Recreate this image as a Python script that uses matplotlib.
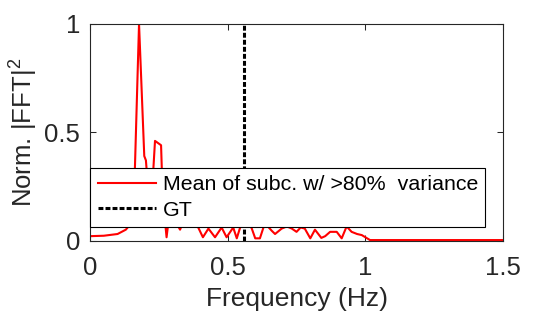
import matplotlib

matplotlib.use("Agg")
import matplotlib.pyplot as plt

plt.rcParams["font.family"] = ["Liberation Sans", "DejaVu Sans"]
plt.rcParams["mathtext.fontset"] = "custom"
plt.rcParams["mathtext.rm"] = "Liberation Sans"

# spectrum (Hz, normalised |FFT|^2)
freq = [0.00, 0.05, 0.10, 0.13, 0.15, 0.160, 0.178, 0.197, 0.203, 0.212, 0.224,
        0.236, 0.258, 0.264, 0.278, 0.288, 0.305, 0.327, 0.345, 0.365, 0.380,
        0.393, 0.410, 0.430, 0.454, 0.478, 0.496, 0.520, 0.533, 0.550, 0.570,
        0.587, 0.600, 0.617, 0.635, 0.660, 0.672, 0.696, 0.715, 0.733, 0.750,
        0.765, 0.780, 0.800, 0.817, 0.840, 0.854, 0.872, 0.896, 0.914, 0.932,
        0.950, 0.970, 0.987, 1.000, 1.017, 1.100, 1.300, 1.500]
power = [0.020, 0.022, 0.030, 0.050, 0.080, 0.200, 1.000, 0.390, 0.370, 0.220, 0.200,
         0.460, 0.440, 0.200, 0.015, 0.120, 0.100, 0.050, 0.110, 0.090, 0.100,
         0.060, 0.015, 0.055, 0.015, 0.060, 0.015, 0.060, 0.010, 0.080, 0.090,
         0.057, 0.010, 0.010, 0.080, 0.045, 0.030, 0.055, 0.065, 0.055, 0.040,
         0.060, 0.055, 0.010, 0.050, 0.012, 0.020, 0.040, 0.040, 0.010, 0.065,
         0.040, 0.030, 0.025, 0.015, 0.002, 0.002, 0.002, 0.002]
gt_freq = 0.56

x_ticks = [0, 0.5, 1, 1.5]
x_tick_labels = ["0", "0.5", "1", "1.5"]
y_ticks = [0, 0.5, 1]
y_tick_labels = ["0", "0.5", "1"]

TEXT = "#262626"

fig = plt.figure(figsize=(5.54, 3.15), dpi=100)
ax = fig.add_axes([0.1625, 0.2365, 0.7455, 0.6875])

ax.plot(freq, power, color="#ff0000", linewidth=1.5, label="Mean of subc. w/ >80%  variance")
ax.axvline(gt_freq, color="black", linewidth=2.2, linestyle=(0, (1.6, 0.7)), label="GT")

ax.set_xlim(0, 1.5)
ax.set_ylim(0, 1)
ax.set_xticks(x_ticks, x_tick_labels)
ax.set_yticks(y_ticks, y_tick_labels)
ax.tick_params(direction="in", length=4, width=0.75, colors=TEXT, labelsize=18.5,
               top=True, right=True)
ax.tick_params(axis="x", pad=11)
ax.tick_params(axis="y", pad=7)
for s in ax.spines.values():
    s.set_color(TEXT)
    s.set_linewidth(0.8)

ax.set_xlabel("Frequency (Hz)", fontsize=19, color=TEXT, labelpad=5)
ax.set_ylabel("Norm. |FFT|$^2$", fontsize=18.5, color=TEXT, labelpad=4)

leg = ax.legend(loc="lower left", bbox_to_anchor=(0.0, 0.061, 0.956, 0.277), mode="expand",
                fontsize=15.4, frameon=True, fancybox=False, framealpha=1,
                edgecolor="black", handlelength=2.75, handletextpad=0.3,
                borderpad=0.35, labelspacing=0.3, borderaxespad=0)
leg.get_frame().set_linewidth(0.8)

fig.savefig("out.png", dpi=100, facecolor="white")
